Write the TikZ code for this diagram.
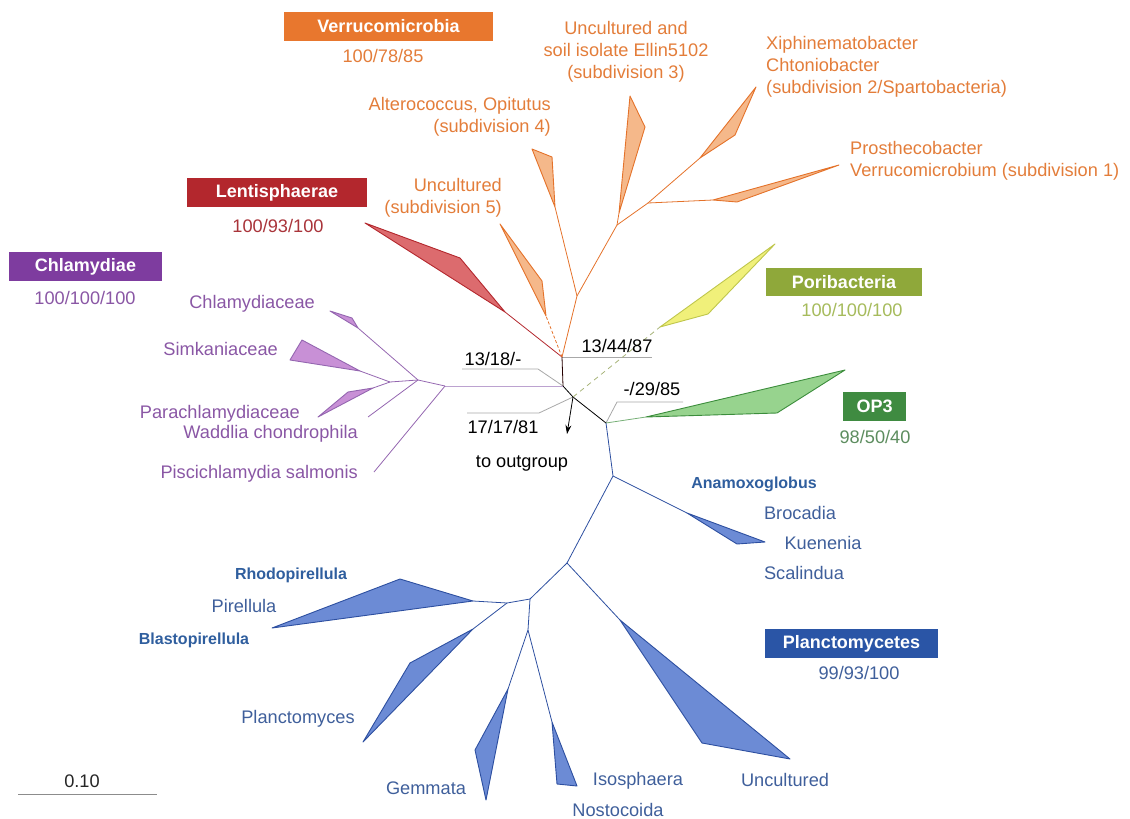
\documentclass[tikz,border=0pt]{standalone}
\usepackage{fontspec}
\setmainfont{Liberation Sans}
\usetikzlibrary{arrows.meta}
\definecolor{verrbox}{HTML}{E8772E}
\definecolor{verrtxt}{HTML}{E37D3A}
\definecolor{verrfill}{HTML}{F5B88A}
\definecolor{verrline}{HTML}{E4722A}
\definecolor{lentbox}{HTML}{B3272D}
\definecolor{lenttxt}{HTML}{A9343A}
\definecolor{lentfill}{HTML}{DC6B6E}
\definecolor{chlbox}{HTML}{7E3C9F}
\definecolor{chltxt}{HTML}{8A57A5}
\definecolor{chlfill}{HTML}{C890D6}
\definecolor{chlline}{HTML}{9466B0}
\definecolor{chlstem}{HTML}{BCA2D0}
\definecolor{poribox}{HTML}{8FA83A}
\definecolor{poritxt}{HTML}{A6BB5C}
\definecolor{porifill}{HTML}{F0F07A}
\definecolor{poriline}{HTML}{BFC64C}
\definecolor{poridash}{HTML}{A8B47A}
\definecolor{opbox}{HTML}{3F8B41}
\definecolor{optxt}{HTML}{5D8D5F}
\definecolor{opfill}{HTML}{97D38E}
\definecolor{opline}{HTML}{3C8D3C}
\definecolor{plbox}{HTML}{2A55A6}
\definecolor{pltxt}{HTML}{3F5F9B}
\definecolor{plbold}{HTML}{2F5E9E}
\definecolor{plfill}{HTML}{6C8BD5}
\definecolor{plline}{HTML}{2D4FA0}
\definecolor{leadgrey}{HTML}{A8A8A8}
\begin{document}
\begin{tikzpicture}[x=1pt,y=-1pt,
  br/.style={line width=0.8pt},
  wedge/.style={line width=0.9pt, line join=round},
  lbl/.style={inner sep=0pt, font=\fontsize{18.2}{22}\selectfont},
  blbl/.style={inner sep=0pt, font=\fontsize{16}{18}\selectfont\bfseries},
  boxlbl/.style={inner sep=0pt, minimum height=29pt, text=white, font=\fontsize{18}{22}\selectfont\bfseries},
  lead/.style={line width=0.8pt, draw=leadgrey}
]
\useasboundingbox (0,0) rectangle (1130,819);

% ---------- coordinates ----------
\coordinate (J) at (562,357);
\coordinate (K) at (563,386);
\coordinate (O) at (573,397);
\coordinate (P) at (606,423);
\coordinate (Oe) at (567,434);
% Lentisphaerae
\coordinate (Lr) at (505,312); \coordinate (La) at (365,223); \coordinate (Lb) at (460,258);
% Verrucomicrobia
\coordinate (S5r) at (546,316); \coordinate (S5a) at (500,224); \coordinate (S5b) at (542,281);
\coordinate (V1) at (577,296);
\coordinate (S4r) at (555,207); \coordinate (S4a) at (532,149); \coordinate (S4b) at (552,157);
\coordinate (V2) at (617,225);
\coordinate (S3r) at (619,213); \coordinate (S3a) at (630,96); \coordinate (S3b) at (645,127);
\coordinate (V3) at (648,203);
\coordinate (S1r) at (713,200); \coordinate (S1a) at (839,165); \coordinate (S1b) at (737,202);
\coordinate (S2r) at (700,158); \coordinate (S2a) at (756,87); \coordinate (S2b) at (735,135);
% Poribacteria
\coordinate (Pr) at (660,327); \coordinate (Pa) at (775,244); \coordinate (Pb) at (708,314);
% OP3
\coordinate (Or) at (646,417); \coordinate (Oa) at (845,370); \coordinate (Ob) at (777,413);
% Planctomycetes
\coordinate (Q) at (613,476);
\coordinate (Ar) at (687,513); \coordinate (Aa) at (765,542); \coordinate (Ab) at (737,544);
\coordinate (R) at (567,563);
\coordinate (Ur) at (620,620); \coordinate (Ua) at (790,759); \coordinate (Ub) at (702,743);
\coordinate (S) at (530,599);
\coordinate (T) at (507,603);
\coordinate (Pir) at (473,601); \coordinate (Pia) at (400,579); \coordinate (Pib) at (272,628);
\coordinate (Plr) at (473,629); \coordinate (Pla) at (410,663); \coordinate (Plb) at (363,742);
\coordinate (U) at (528,630);
\coordinate (Gr) at (508,689); \coordinate (Ga) at (475,750); \coordinate (Gb) at (486,800);
\coordinate (Ir) at (552,722); \coordinate (Ia) at (557,784); \coordinate (Ib) at (577,786);
% Chlamydiae
\coordinate (C1) at (445,386);
\coordinate (C2) at (418,380);
\coordinate (C3) at (390,382);
\coordinate (Pise) at (374,472);
\coordinate (Wade) at (368,417);
\coordinate (Chr) at (358,328); \coordinate (Cha) at (330,311); \coordinate (Chb) at (352,318);
\coordinate (Smr) at (360,371); \coordinate (Sma) at (302,340); \coordinate (Smb) at (290,360);
\coordinate (Par) at (373,388); \coordinate (Paa) at (348,392); \coordinate (Pab) at (318,417);
% leaders
\coordinate (la1) at (462,369); \coordinate (la2) at (538,369);
\coordinate (lb1) at (467,413); \coordinate (lb2) at (539,413);
\coordinate (lc2) at (652,357);
\coordinate (ld1) at (617,402); \coordinate (ld2) at (683,402);
\coordinate (sb1) at (18,794); \coordinate (sb2) at (157,794);

% ---------- leader lines ----------
\draw[lead] (la1) -- (la2) -- (K);
\draw[lead] (lb1) -- (lb2) -- (O);
\draw[lead] (J) -- (lc2);
\draw[lead] (P) -- (ld1) -- (ld2);

% ---------- central branches ----------
\draw[br, draw=black!85!red] (J) -- (K);
\draw[br, draw=black] (K) -- (O) -- (P);
\draw[br, draw=black, -{Stealth[length=9pt,width=6pt]}] (O) -- (Oe);

% ---------- Lentisphaerae ----------
\draw[br, draw=lentbox] (J) -- (Lr);
\draw[wedge, draw=lentbox, fill=lentfill] (Lr) -- (La) -- (Lb) -- cycle;

% ---------- Verrucomicrobia ----------
\draw[br, draw=verrline, dashed, dash pattern=on 3pt off 2pt] (J) -- (S5r);
\draw[wedge, draw=verrline, fill=verrfill] (S5r) -- (S5a) -- (S5b) -- cycle;
\draw[br, draw=verrline] (J) -- (V1);
\draw[br, draw=verrline] (V1) -- (S4r);
\draw[wedge, draw=verrline, fill=verrfill] (S4r) -- (S4a) -- (S4b) -- cycle;
\draw[br, draw=verrline] (V1) -- (V2);
\draw[br, draw=verrline] (V2) -- (S3r);
\draw[wedge, draw=verrline, fill=verrfill] (S3r) -- (S3a) -- (S3b) -- cycle;
\draw[br, draw=verrline] (V2) -- (V3);
\draw[br, draw=verrline] (V3) -- (S1r);
\draw[wedge, draw=verrline, fill=verrfill] (S1r) -- (S1a) -- (S1b) -- cycle;
\draw[br, draw=verrline] (V3) -- (S2r);
\draw[wedge, draw=verrline, fill=verrfill] (S2r) -- (S2a) -- (S2b) -- cycle;

% ---------- Poribacteria ----------
\draw[br, draw=poridash, dashed, dash pattern=on 5pt off 4pt] (O) -- (Pr);
\draw[wedge, draw=poriline, fill=porifill] (Pr) -- (Pa) -- (Pb) -- cycle;

% ---------- OP3 ----------
\draw[br, draw=opline!70] (P) -- (Or);
\draw[wedge, draw=opline, fill=opfill] (Or) -- (Oa) -- (Ob) -- cycle;

% ---------- Planctomycetes ----------
\draw[br, draw=plline] (P) -- (Q);
\draw[br, draw=plline] (Q) -- (Ar);
\draw[wedge, draw=plline, fill=plfill] (Ar) -- (Aa) -- (Ab) -- cycle;
\draw[br, draw=plline] (Q) -- (R);
\draw[br, draw=plline] (R) -- (Ur);
\draw[wedge, draw=plline, fill=plfill] (Ur) -- (Ua) -- (Ub) -- cycle;
\draw[br, draw=plline] (R) -- (S);
\draw[br, draw=plline] (S) -- (T);
\draw[br, draw=plline] (T) -- (Pir);
\draw[wedge, draw=plline, fill=plfill] (Pir) -- (Pia) -- (Pib) -- cycle;
\draw[br, draw=plline] (T) -- (Plr);
\draw[wedge, draw=plline, fill=plfill] (Plr) -- (Pla) -- (Plb) -- cycle;
\draw[br, draw=plline] (S) -- (U);
\draw[br, draw=plline] (U) -- (Gr);
\draw[wedge, draw=plline, fill=plfill] (Gr) -- (Ga) -- (Gb) -- cycle;
\draw[br, draw=plline] (U) -- (Ir);
\draw[wedge, draw=plline, fill=plfill] (Ir) -- (Ia) -- (Ib) -- cycle;

% ---------- Chlamydiae ----------
\draw[br, draw=chlstem] (K) -- (C1);
\draw[br, draw=chlline] (C1) -- (Pise);
\draw[br, draw=chlline] (C1) -- (C2);
\draw[br, draw=chlline] (C2) -- (Chr);
\draw[wedge, draw=chlline, fill=chlfill] (Chr) -- (Cha) -- (Chb) -- cycle;
\draw[br, draw=chlline] (C2) -- (Wade);
\draw[br, draw=chlline] (C2) -- (C3);
\draw[br, draw=chlline] (C3) -- (Smr);
\draw[wedge, draw=chlline, fill=chlfill] (Smr) -- (Sma) -- (Smb) -- cycle;
\draw[br, draw=chlline] (C3) -- (Par);
\draw[wedge, draw=chlline, fill=chlfill] (Par) -- (Paa) -- (Pab) -- cycle;

% ---------- scale bar ----------
\draw[line width=1pt, draw=black!45] (sb1) -- (sb2);
\node[lbl, text=black!85] (scl) at (82,781) {0.10};

% ---------- group boxes ----------
\node[boxlbl, fill=verrbox, minimum width=209pt] (verrB) at (388.5,26) {Verrucomicrobia};
\node[lbl, text=verrtxt] (verrN) at (383,56) {100/78/85};
\node[boxlbl, fill=lentbox, minimum width=180pt] (lentB) at (277,192.5) {Lentisphaerae};
\node[lbl, text=lenttxt] (lentN) at (278,226) {100/93/100};
\node[boxlbl, fill=chlbox, minimum width=153pt] (chlB) at (85.5,266.5) {Chlamydiae};
\node[lbl, text=chltxt] (chlN) at (85,298) {100/100/100};
\node[boxlbl, fill=poribox, minimum width=156pt, minimum height=28pt] (poriB) at (844,282) {Poribacteria};
\node[lbl, text=poritxt] (poriN) at (852,310) {100/100/100};
\node[boxlbl, fill=opbox, minimum width=63pt] (opB) at (874.5,406.5) {OP3};
\node[lbl, text=optxt] (opN) at (875,437) {98/50/40};
\node[boxlbl, fill=plbox, minimum width=173pt] (plB) at (851.5,643.5) {Planctomycetes};
\node[lbl, text=pltxt] (plN) at (859,673) {99/93/100};

% ---------- central labels ----------
\node[lbl] (b1) at (493,359) {13/18/-};
\node[lbl] (b2) at (503,427) {17/17/81};
\node[lbl] (b3) at (617,346) {13/44/87};
\node[lbl] (b4) at (652,389) {-/29/85};
\node[lbl] (outg) at (522,463) {to outgroup};

% ---------- Verrucomicrobia labels ----------
\node[lbl, text=verrtxt, align=center] (v3l) at (626,52) {Uncultured and\\soil isolate Ellin5102\\(subdivision 3)};
\node[lbl, text=verrtxt, align=left, anchor=west] (v2l) at (766,67) {Xiphinematobacter\\Chtoniobacter\\(subdivision 2/Spartobacteria)};
\node[lbl, text=verrtxt, align=left, anchor=west] (v1l) at (850,161) {Prosthecobacter\\Verrucomicrobium (subdivision 1)};
\node[lbl, text=verrtxt, align=right, anchor=east] (v4l) at (551,117) {Alterococcus, Opitutus\\(subdivision 4)};
\node[lbl, text=verrtxt, align=right, anchor=east] (v5l) at (502,198) {Uncultured\\(subdivision 5)};

% ---------- Chlamydiae labels ----------
\node[lbl, text=chltxt, anchor=east] (c1l) at (315,304) {Chlamydiaceae};
\node[lbl, text=chltxt, anchor=east] (c2l) at (278,349) {Simkaniaceae};
\node[lbl, text=chltxt, anchor=east] (c3l) at (300,414) {Parachlamydiaceae};
\node[lbl, text=chltxt, anchor=east] (c4l) at (358,434) {Waddlia chondrophila};
\node[lbl, text=chltxt, anchor=east] (c5l) at (358,474) {Piscichlamydia salmonis};

% ---------- Planctomycetes labels ----------
\node[blbl, text=plbold] (p1) at (754,484.5) {Anamoxoglobus};
\node[lbl, text=pltxt] (p2) at (800,513) {Brocadia};
\node[lbl, text=pltxt] (p3) at (823,543) {Kuenenia};
\node[lbl, text=pltxt] (p4) at (804,573) {Scalindua};
\node[blbl, text=plbold] (p5) at (291,575.5) {Rhodopirellula};
\node[lbl, text=pltxt] (p6) at (244,606) {Pirellula};
\node[blbl, text=plbold] (p7) at (194,640.5) {Blastopirellula};
\node[lbl, text=pltxt] (p8) at (298,718.5) {Planctomyces};
\node[lbl, text=pltxt] (p9) at (426,788) {Gemmata};
\node[lbl, text=pltxt] (p10) at (638,781) {Isosphaera};
\node[lbl, text=pltxt] (p11) at (618,810) {Nostocoida};
\node[lbl, text=pltxt] (p12) at (785,780) {Uncultured};
\end{tikzpicture}
\end{document}
